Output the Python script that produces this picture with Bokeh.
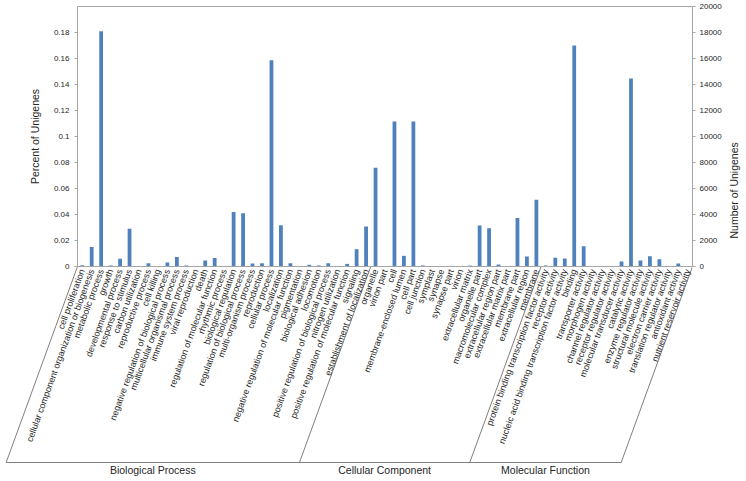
import math
from bokeh.plotting import figure
from bokeh.models import (ColumnDataSource, Range1d, LinearAxis, FixedTicker,
                          NumeralTickFormatter)
from bokeh.embed import file_html
from bokeh.resources import INLINE
from bokeh.core.properties import value

# ---------------- data ----------------
bp_terms = [
    "cell proliferation", "cellular component organization or biogenesis",
    "metabolic process", "growth", "developmental process", "response to stimulus",
    "carbon utilization", "reproductive process", "cell killing",
    "negative regulation of biological process", "multicellular organismal process",
    "immune system process", "viral reproduction", "death",
    "regulation of molecular function", "rhythmic process", "biological regulation",
    "regulation of biological process", "multi-organism process", "reproduction",
    "cellular process", "localization", "negative regulation of molecular function",
    "pigmentation", "biological adhesion", "locomotion",
    "positive regulation of biological process", "nitrogen utilization",
    "positive regulation of molecular function", "signaling",
    "establishment of localization",
]
bp_counts = [100, 1500, 18100, 80, 600, 2900, 30, 250, 30, 300, 740, 80, 30, 460,
             660, 20, 4200, 4100, 230, 250, 15860, 3180, 250, 30, 130, 80, 250, 30,
             200, 1320, 3080]

cc_terms = [
    "organelle", "virion part", "cell", "membrane-enclosed lumen", "cell part",
    "cell junction", "symplast", "synapse", "synapse part", "virion",
    "extracellular matrix", "organelle part", "macromolecular complex",
    "extracellular region part", "extracellular matrix part", "membrane part",
    "extracellular region", "membrane",
]
cc_counts = [7600, 40, 11150, 820, 11150, 80, 30, 20, 20, 20, 70, 3150, 2950, 150,
             30, 3740, 770, 5130]

mf_terms = [
    "protein binding transcription factor activity", "receptor activity",
    "nucleic acid binding transcription factor activity", "binding",
    "transporter activity", "morphogen activity", "channel regulator activity",
    "receptor regulator activity", "molecular transducer activity",
    "catalytic activity", "enzyme regulator activity", "structural molecule activity",
    "electron carrier activity", "translation regulator activity",
    "antioxidant activity", "nutrient reservoir activity",
]
mf_counts = [80, 670, 615, 17000, 1560, 20, 20, 20, 385, 14460, 460, 795, 565, 20,
             230, 20]

group_names = ["Biological Process", "Cellular Component", "Molecular Function"]
group_terms = [bp_terms, cc_terms, mf_terms]
total_unigenes = 100000

pct_ticks = [0, 0.02, 0.04, 0.06, 0.08, 0.1, 0.12, 0.14, 0.16, 0.18]
pct_tick_labels = ["0", "0.02", "0.04", "0.06", "0.08", "0.1", "0.12", "0.14",
                   "0.16", "0.18"]
count_ticks = [0, 2000, 4000, 6000, 8000, 10000, 12000, 14000, 16000, 18000, 20000]

# ---------------- layout / style ----------------
FONT = "Liberation Sans"
BAR = "#4F81BD"
AXIS = "#a6a6a6"
SEP = "#7f7f7f"
TXT = "#262626"

terms = bp_terms + cc_terms + mf_terms
counts = bp_counts + cc_counts + mf_counts
n = len(terms)
xs = list(range(n))

FRAME_W, FRAME_H = 692, 476
PX_X = 615.0 / n       # pixels per category
PX_Y = 1300.0          # pixels per 1.0 of percent
PCT_MAX = 0.2
x_end = n - 0.5
x_start = x_end - FRAME_W / PX_X
y_end = PCT_MAX + 6.0 / PX_Y
y_start = y_end - FRAME_H / PX_Y

p = figure(frame_width=FRAME_W, frame_height=FRAME_H,
           x_range=Range1d(x_start, x_end), y_range=Range1d(y_start, y_end),
           output_backend="svg", toolbar_location=None,
           min_border_left=0, min_border_right=0, min_border_top=0,
           min_border_bottom=0)
p.outline_line_color = None
p.grid.visible = False
p.background_fill_color = "white"
p.border_fill_color = "white"
p.extra_y_ranges = {"count": Range1d(y_start * total_unigenes, y_end * total_unigenes)}

src = ColumnDataSource(dict(x=xs, count=counts, term=terms))
p.vbar(x="x", top="count", bottom=0, width=0.4, source=src,
       y_range_name="count", fill_color=BAR, line_color=None)

# top border of plot area
p.segment(x0=[-0.5], y0=[PCT_MAX], x1=[x_end], y1=[PCT_MAX],
          line_color=AXIS, line_width=1)

# x axis at y = 0 with rotated category labels
xa = p.xaxis[0]
xa.fixed_location = 0
xa.bounds = (-0.5, x_end)
xa.ticker = FixedTicker(ticks=xs, minor_ticks=[])
xa.major_label_overrides = {i: t for i, t in enumerate(terms)}
xa.major_label_orientation = math.radians(70)
xa.major_label_text_font = FONT
xa.major_label_text_font_size = "9px"
xa.major_label_text_color = TXT
xa.major_label_standoff = 3
xa.major_tick_in = 0
xa.major_tick_out = 0
xa.minor_tick_in = 0
xa.minor_tick_out = 0
xa.axis_line_color = AXIS

# left axis (percent)
ya = p.yaxis[0]
ya.fixed_location = -0.5
ya.bounds = (0, PCT_MAX)
ya.ticker = FixedTicker(ticks=pct_ticks, minor_ticks=[])
ya.major_label_overrides = dict(zip(pct_ticks, pct_tick_labels))
ya.axis_label = "Percent of Unigenes"
ya.axis_label_text_font = FONT
ya.axis_label_text_font_size = "10.5px"
ya.axis_label_text_font_style = "normal"
ya.axis_label_text_color = TXT
ya.axis_label_standoff = 10
ya.major_label_text_font = FONT
ya.major_label_text_font_size = "8px"
ya.major_label_text_color = TXT
ya.major_label_standoff = 5
ya.major_tick_in = 0
ya.major_tick_out = 3
ya.major_tick_line_color = AXIS
ya.axis_line_color = AXIS

# right axis (number)
ra = LinearAxis(y_range_name="count", ticker=FixedTicker(ticks=count_ticks, minor_ticks=[]),
                formatter=NumeralTickFormatter(format="0"),
                bounds=(0, PCT_MAX * total_unigenes),
                axis_label="Number of Unigenes")
ra.axis_label_orientation = math.pi / 2
ra.axis_label_text_font = FONT
ra.axis_label_text_font_size = "10.5px"
ra.axis_label_text_font_style = "normal"
ra.axis_label_text_color = TXT
ra.axis_label_standoff = 9
ra.major_label_text_font = FONT
ra.major_label_text_font_size = "8px"
ra.major_label_text_color = TXT
ra.major_label_standoff = 4
ra.major_tick_in = 0
ra.major_tick_out = 3
ra.major_tick_line_color = AXIS
ra.axis_line_color = AXIS
p.add_layout(ra, "right")

# group separators (slanted, parallel to the labels) and group names
DEPTH_PX = 196
ANGLE = math.radians(70)
y_bot = -DEPTH_PX / PX_Y
slant = DEPTH_PX / math.tan(ANGLE) / PX_X
edges = [-0.5]
for g in group_terms:
    edges.append(edges[-1] + len(g))

p.segment(x0=edges, y0=[0] * len(edges),
          x1=[e - slant for e in edges], y1=[y_bot] * len(edges),
          line_color=SEP, line_width=1)
p.segment(x0=[edges[0] - slant], y0=[y_bot], x1=[edges[-1] - slant], y1=[y_bot],
          line_color=SEP, line_width=1)

gx = [(edges[i] + edges[i + 1]) / 2 - slant for i in range(len(group_names))]
gy = [y_bot - 7 / PX_Y] * len(group_names)
p.text(x=gx, y=gy, text=group_names, text_font=value(FONT),
       text_font_size="10.5px", text_color=TXT, text_align="center",
       text_baseline="middle")

open("out.html", "w").write(file_html(p, INLINE))
